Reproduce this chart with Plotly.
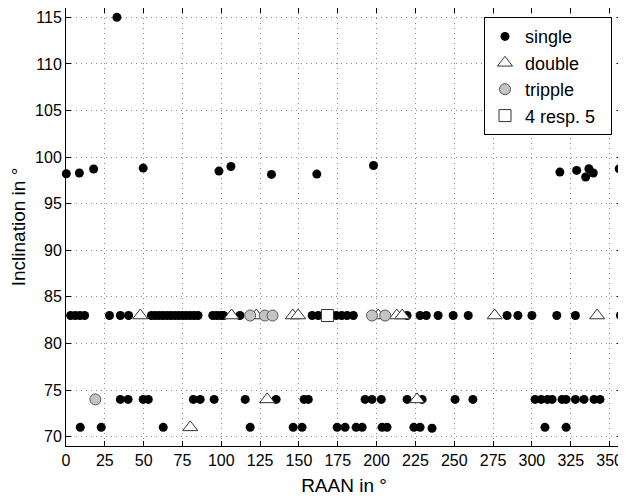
import plotly.graph_objects as go

# ---- data (RAAN in deg, inclination in deg) ----
single_raan = [
    # ~115 deg
    32.8,
    # ~98 deg group
    0.2, 8.6, 17.8, 49.7, 98.5, 106.2, 132.3, 161.5, 198.0,
    318.0, 328.8, 336.7, 334.6, 339.5, 356.2,
    # ~83 deg row
    3, 6, 9, 12, 28, 35, 40.3,
    55, 57.5, 60, 62.5, 65, 67.5, 70, 72.5, 75, 77.5, 80, 82.5, 85,
    94.5, 97, 99.5, 101.5, 112,
    158.5, 162.4, 174, 177.5, 181, 185,
    219.6, 228, 232, 239.6, 249.3, 259, 284, 291, 300, 316, 328, 357,
    # ~74 deg row
    35, 40, 49.7, 53, 82, 86.4, 95.4, 115.4, 135.3, 153.3, 156,
    192.6, 197, 203, 219.6, 229.3, 250.5, 262,
    302, 306, 310, 313, 319.4, 322, 328, 333.5, 340, 343.8,
    # ~71 deg row
    9.2, 22.7, 62.6, 118.6, 146.3, 152, 174.6, 179.7, 186.8, 190.7,
    203.5, 206.7, 224, 228, 235.7, 308.4, 322,
]
single_incl = [
    115.0,
    98.21, 98.29, 98.72, 98.82, 98.5, 98.99, 98.14, 98.18, 99.1,
    98.39, 98.57, 98.75, 97.86, 98.29, 98.75,
    83, 83, 83, 83, 83, 83, 83,
    83, 83, 83, 83, 83, 83, 83, 83, 83, 83, 83, 83, 83,
    83, 83, 83, 83, 83,
    83, 83, 83, 83, 83, 83,
    83, 83, 83, 83, 83, 83, 83, 83, 83, 83, 83, 83,
    74, 74, 74, 74, 74, 74, 74, 74, 74, 74, 74,
    74, 74, 74, 74, 74, 74, 74,
    74, 74, 74, 74, 74, 74, 74, 74, 74, 74,
    71, 71, 71, 71, 71, 71, 71, 71, 71, 71,
    71, 71, 71, 71, 70.9, 71, 71,
]

double_raan = [47.8, 106.6, 122.5, 146, 149.5, 201, 213, 216.5, 276, 342, 80, 129.5, 226]
double_incl = [83, 83, 83, 83, 83, 83, 83, 83, 83, 83, 71, 74, 74]

triple_raan = [18.9, 118.6, 128, 133, 197, 205.5]
triple_incl = [74, 83, 83, 83, 83, 83]

quad_raan = [168.3]
quad_incl = [83]

series_names = ["single", "double", "tripple", "4 resp. 5"]

x_ticks = [0, 25, 50, 75, 100, 125, 150, 175, 200, 225, 250, 275, 300, 325, 350]
y_ticks = [70, 75, 80, 85, 90, 95, 100, 105, 110, 115]

FONT = "Liberation Sans, Arial, Helvetica, sans-serif"
PAD = "\u00a0\u00a0"  # extra right padding inside the legend box

fig = go.Figure()
fig.add_trace(go.Scatter(
    x=single_raan, y=single_incl, mode="markers", name=series_names[0], cliponaxis=False,
    marker=dict(symbol="circle", size=9, color="black", line=dict(width=0)),
))
fig.add_trace(go.Scatter(
    x=double_raan, y=double_incl, mode="markers", name=series_names[1], cliponaxis=False,
    marker=dict(symbol="triangle-up", size=13, color="white",
                line=dict(color="#333333", width=1)),
))
fig.add_trace(go.Scatter(
    x=triple_raan, y=triple_incl, mode="markers", name=series_names[2], cliponaxis=False,
    marker=dict(symbol="circle", size=11, color="#c4c4c4",
                line=dict(color="#555555", width=1)),
))
fig.add_trace(go.Scatter(
    x=quad_raan, y=quad_incl, mode="markers", name=series_names[3] + PAD, cliponaxis=False,
    marker=dict(symbol="square", size=12, color="white",
                line=dict(color="#333333", width=1)),
))

axis_common = dict(
    showline=True, linecolor="black", linewidth=1, mirror="ticks",
    ticks="inside", ticklen=5, tickcolor="black",
    showgrid=True, gridcolor="#8c8c8c", gridwidth=1, griddash="1px,4px",
    zeroline=False, automargin=False,
    tickfont=dict(family=FONT, size=16, color="black"),
    title_font=dict(family=FONT, size=19, color="black"),
)

fig.update_xaxes(range=[0, 358], tickvals=x_ticks, title_text="RAAN in °",
                 title_standoff=10, **axis_common)
fig.update_yaxes(range=[69, 116], tickvals=y_ticks, title_text="Inclination in °",
                 title_standoff=6, **axis_common)

# page body has an 8px margin, so the figure is sized/offset accordingly
fig.update_layout(
    width=618, height=493,
    margin=dict(l=58, r=4, t=0, b=55, autoexpand=False),
    plot_bgcolor="white", paper_bgcolor="white",
    font=dict(family=FONT, size=16, color="black"),
    legend=dict(
        x=0.982, y=0.979, xanchor="right", yanchor="top",
        bgcolor="white", bordercolor="black", borderwidth=1,
        font=dict(family=FONT, size=18, color="black"),
        itemsizing="trace",
    ),
    showlegend=True,
)

fig.write_html("out.html")
